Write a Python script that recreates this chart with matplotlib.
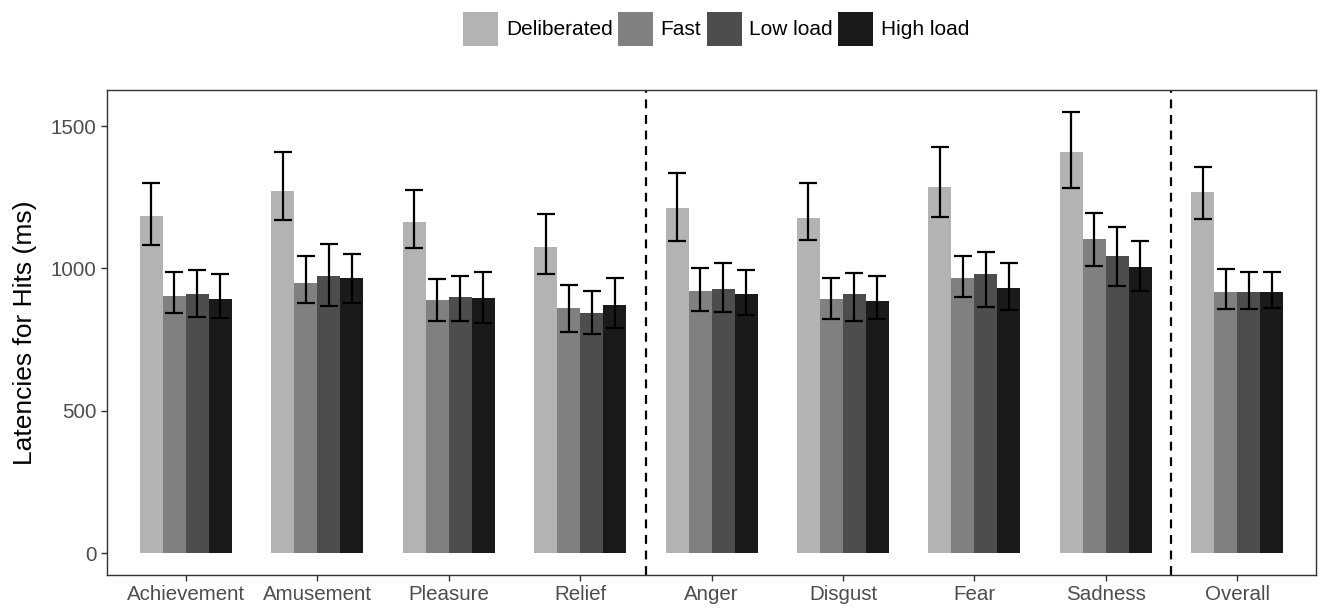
import numpy as np
import matplotlib
matplotlib.use('Agg')
import matplotlib.pyplot as plt

plt.rcParams['font.family'] = ['Liberation Sans', 'DejaVu Sans']

emotions = ['Achievement', 'Amusement', 'Pleasure', 'Relief', 'Anger',
            'Disgust', 'Fear', 'Sadness', 'Overall']
conditions = ['Deliberated', 'Fast', 'Low load', 'High load']
colors = ['#b3b3b3', '#808080', '#4d4d4d', '#1a1a1a']

# mean latency per emotion, one list per condition
deliberated = [1185, 1273, 1162, 1074, 1211, 1177, 1286, 1409, 1268]
fast = [903, 948, 888, 861, 921, 891, 966, 1102, 917]
low_load = [911, 973, 898, 845, 929, 910, 980, 1044, 917]
high_load = [892, 965, 896, 873, 910, 887, 931, 1005, 917]

# error bar ends
deliberated_lo = [1083, 1169, 1071, 981, 1097, 1100, 1181, 1284, 1175]
deliberated_hi = [1300, 1410, 1277, 1190, 1335, 1300, 1425, 1549, 1356]
fast_lo = [844, 877, 816, 776, 849, 822, 898, 1008, 859]
fast_hi = [986, 1044, 963, 943, 1001, 966, 1045, 1195, 998]
low_lo = [829, 869, 817, 769, 846, 817, 865, 937, 857]
low_hi = [993, 1086, 973, 922, 1019, 984, 1057, 1146, 986]
high_lo = [825, 878, 810, 791, 836, 822, 853, 920, 860]
high_hi = [982, 1051, 987, 965, 995, 973, 1020, 1095, 987]

means = [deliberated, fast, low_load, high_load]
lows = [deliberated_lo, fast_lo, low_lo, high_lo]
highs = [deliberated_hi, fast_hi, low_hi, high_hi]

fig = plt.figure(figsize=(13.24, 6.12), dpi=100)
ax = fig.add_axes([0.0808, 0.0605, 0.9132, 0.7925])

x = np.arange(len(emotions))
width = 0.175
for i, (m, lo, hi) in enumerate(zip(means, lows, highs)):
    pos = x + (i - 1.5) * width
    m = np.array(m)
    yerr = [m - np.array(lo), np.array(hi) - m]
    ax.bar(pos, m, width, color=colors[i], label=conditions[i])
    ax.errorbar(pos, m, yerr=yerr, fmt='none', ecolor='black',
                elinewidth=1.6, capsize=6.5, capthick=1.6)

for xv in [3.5, 7.5]:
    ax.axvline(xv, color='black', linestyle=(0, (4, 3)), linewidth=1.6)

ax.set_xlim(-0.6, 8.6)
ax.set_ylim(-77, 1627)
ax.set_yticks([0, 500, 1000, 1500])
ax.set_xticks(x)
ax.set_xticklabels(emotions)
ax.tick_params(colors='#333333', labelcolor='#4d4d4d', labelsize=14.8,
               length=4, width=1)
ax.set_ylabel('Latencies for Hits (ms)', fontsize=19, labelpad=10)
for s in ax.spines.values():
    s.set_color('#333333')
    s.set_linewidth(1)

fig.legend(loc='center', bbox_to_anchor=(0.541, 0.953), ncol=4, frameon=False,
           fontsize=15, handlelength=1.68, handleheight=2.14,
           handletextpad=0.38, columnspacing=0.25, borderaxespad=0)

fig.savefig('out.png', dpi=100)
